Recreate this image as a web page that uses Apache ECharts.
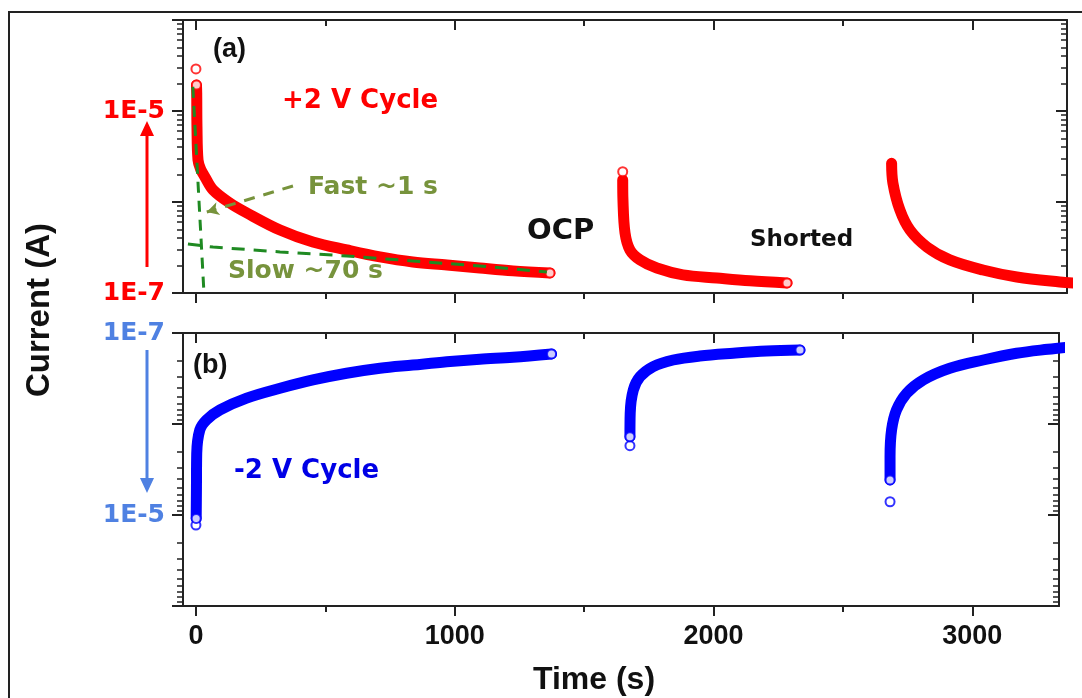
<!DOCTYPE html>
<html>
<head>
<meta charset="utf-8">
<title>Current transients, +2 V / -2 V cycles</title>
<script src="https://cdn.jsdelivr.net/npm/echarts@6/dist/echarts.min.js"></script>
<style>
  html, body { margin: 0; padding: 0; background: #fff; }
  #chart { width: 1082px; height: 698px; }
</style>
</head>
<body>
<div id="chart"></div>
<script>
// ---- axis ticks ----
const timeMajorTicks = [0, 1000, 2000, 3000];
const timeMinorTicks = [500, 1500, 2500];
const currentDecades = [1e-7, 1e-6, 1e-5, 1e-4];
const posCurrentLabels = [1e-7, 1e-5];
const negCurrentLabels = [1e-7, 1e-5];

// ---- (a) +2 V cycle: time (s), current (A) ----
const posCycle1 = [
  [2, 1.93e-5], [3, 1.58e-5], [4, 6.7e-6], [8, 2.9e-6], [18, 2.3e-6], [35, 1.88e-6],
  [66, 1.36e-6], [131, 9.75e-7], [197, 7.57e-7], [325, 4.92e-7], [452, 3.63e-7],
  [583, 2.97e-7], [711, 2.49e-7], [838, 2.19e-7], [970, 2.03e-7], [1097, 1.88e-7],
  [1225, 1.75e-7], [1368, 1.66e-7]
];
const posCycle2 = [
  [1649, 1.75e-6], [1650, 1.05e-6], [1658, 4.56e-7], [1677, 2.97e-7], [1716, 2.31e-7],
  [1781, 1.88e-7], [1882, 1.58e-7], [2013, 1.46e-7], [2141, 1.36e-7], [2284, 1.29e-7]
];
const posCycle3 = [
  [2688, 2.66e-6], [2693, 1.62e-6], [2720, 8.17e-7], [2759, 4.92e-7], [2825, 3.2e-7],
  [2913, 2.31e-7], [3041, 1.79e-7], [3172, 1.5e-7], [3338, 1.32e-7], [3400, 1.28e-7]
];
const posEndPoints = [
  [0, 2.9e-5], [2, 1.93e-5], [1368, 1.66e-7], [1649, 2.15e-6], [2284, 1.29e-7]
];
// two-exponential fit components of the first +2 V decay
const fastFit = [[-12, 1.84e-5], [31, 1.0e-7]];
const slowFit = [
  [-31, 3.45e-7], [66, 3.2e-7], [325, 2.83e-7], [583, 2.55e-7],
  [838, 2.25e-7], [1097, 1.98e-7], [1356, 1.70e-7]
];
const fastPointer = [[375, 1.5e-6], [42, 7.76e-7]];

// ---- (b) -2 V cycle: time (s), |current| (A) ----
const negCycle1 = [
  [1, 1.09e-5], [2, 4.92e-6], [3, 2.12e-6], [15, 1.16e-6], [41, 9.0e-7], [93, 7.0e-7],
  [196, 5.2e-7], [325, 4.05e-7], [452, 3.28e-7], [582, 2.77e-7], [711, 2.44e-7],
  [838, 2.25e-7], [969, 2.07e-7], [1097, 1.94e-7], [1225, 1.85e-7], [1374, 1.70e-7]
];
const negCycle2 = [
  [1677, 1.38e-6], [1678, 7.6e-7], [1690, 4.23e-7], [1716, 3.02e-7], [1767, 2.34e-7],
  [1844, 1.98e-7], [1947, 1.79e-7], [2076, 1.67e-7], [2205, 1.58e-7], [2334, 1.54e-7]
];
const negCycle3 = [
  [2682, 4.12e-6], [2682, 2.29e-6], [2688, 1.16e-6], [2707, 7.0e-7], [2746, 4.6e-7],
  [2810, 3.28e-7], [2913, 2.44e-7], [3042, 1.98e-7], [3171, 1.67e-7], [3292, 1.51e-7],
  [3400, 1.40e-7]
];
const negEndPoints = [
  [0, 1.29e-5], [1, 1.09e-5], [1374, 1.70e-7], [1677, 1.73e-6], [1677, 1.38e-6],
  [2334, 1.54e-7], [2682, 7.15e-6], [2682, 4.12e-6]
];

// ---- styling ----
const RED = '#ff0000';
const BLUE = '#0000ff';
const LIGHT_BLUE = '#4f81e2';
const OLIVE = '#77933c';
const FIT_GREEN = '#1f8a22';
const AXIS = '#222';
const SANS = '"Liberation Sans", Arial, sans-serif';
const ROUND = '"DejaVu Sans", Verdana, sans-serif';

// minor ticks of a log10 axis: 2..9 within each decade
const currentMinor = [];
for (let d = 0; d < currentDecades.length - 1; d++) {
  for (let m = 2; m <= 9; m++) currentMinor.push(m * currentDecades[d]);
}

const X_MIN = -50;
const gridTop = { left: 183, top: 20, width: 884, height: 273 };
const gridBottom = { left: 183, top: 333, width: 876, height: 273 };
const X_MAX_TOP = X_MIN + (gridTop.width / 258.8) * 1000;
const X_MAX_BOTTOM = X_MIN + (gridBottom.width / 258.8) * 1000;

function xAxes(gridIndex, max, showLabels) {
  const base = {
    type: 'value', gridIndex, min: X_MIN, max,
    splitLine: { show: false },
    axisLabel: { show: false }
  };
  const line = { show: true, onZero: false, lineStyle: { color: AXIS, width: 2 } };
  const noLine = { show: false, onZero: false };
  return [
    Object.assign({}, base, {
      position: 'bottom', axisLine: line,
      axisTick: { show: true, inside: false, length: 10, customValues: timeMajorTicks,
        lineStyle: { color: AXIS, width: 2 } },
      axisLabel: showLabels ? {
        show: true, customValues: timeMajorTicks, margin: 17,
        color: '#111', fontSize: 27, fontWeight: 'bold', fontFamily: SANS,
        formatter: v => String(v)
      } : { show: false }
    }),
    Object.assign({}, base, {
      position: 'bottom', axisLine: noLine,
      axisTick: { show: true, inside: false, length: 6, customValues: timeMinorTicks,
        lineStyle: { color: AXIS, width: 2 } }
    }),
    Object.assign({}, base, {
      position: 'top', axisLine: line,
      axisTick: { show: true, inside: true, length: 10, customValues: timeMajorTicks,
        lineStyle: { color: AXIS, width: 2 } }
    }),
    Object.assign({}, base, {
      position: 'top', axisLine: noLine,
      axisTick: { show: true, inside: true, length: 6, customValues: timeMinorTicks,
        lineStyle: { color: AXIS, width: 2 } }
    })
  ];
}

function yAxes(gridIndex, inverse, labelValues, labelColor) {
  const base = {
    type: 'log', logBase: 10, gridIndex, min: 1e-7, max: 1e-4, inverse,
    splitLine: { show: false },
    axisLabel: { show: false }
  };
  const line = { show: true, onZero: false, lineStyle: { color: AXIS, width: 2 } };
  const noLine = { show: false, onZero: false };
  const tick = (len, inside, values, w) => ({
    show: true, inside, length: len, customValues: values,
    lineStyle: { color: AXIS, width: w }
  });
  return [
    Object.assign({}, base, {
      position: 'left', axisLine: line, axisTick: tick(11, false, currentDecades, 2),
      axisLabel: {
        show: true, customValues: labelValues, margin: 18,
        color: labelColor, fontSize: 25, fontWeight: 'bold', fontFamily: ROUND,
        formatter: v => '1E' + Math.round(Math.log10(v))
      }
    }),
    Object.assign({}, base, {
      position: 'left', axisLine: noLine, axisTick: tick(6, false, currentMinor, 1.5)
    }),
    Object.assign({}, base, {
      position: 'right', axisLine: line, axisTick: tick(11, true, currentDecades, 2)
    }),
    Object.assign({}, base, {
      position: 'right', axisLine: noLine, axisTick: tick(6, true, currentMinor, 1.5)
    })
  ];
}

function traceSeries(data, color, axisIndex) {
  return {
    type: 'line', data, xAxisIndex: axisIndex, yAxisIndex: axisIndex,
    symbol: 'none', clip: true, silent: true, smooth: 0.35, z: 2,
    lineStyle: { color, width: 11, cap: 'round', join: 'round' }
  };
}

function endSeries(data, color, axisIndex) {
  return {
    type: 'scatter', data, xAxisIndex: axisIndex, yAxisIndex: axisIndex,
    symbol: 'circle', symbolSize: 9, silent: true, z: 4,
    itemStyle: { color: '#fff', borderColor: color, borderWidth: 2 }
  };
}

function label(text, x, y, size, color, family) {
  return {
    type: 'text', z: 100,
    style: {
      text, x, y, fill: color, align: 'left', verticalAlign: 'middle',
      font: 'bold ' + size + 'px ' + (family || ROUND)
    }
  };
}

const chart = echarts.init(document.getElementById('chart'), null, { renderer: 'canvas' });

chart.setOption({
  backgroundColor: '#fff',
  animation: false,
  grid: [
    Object.assign({ outerBoundsMode: 'none', containLabel: false }, gridTop),
    Object.assign({ outerBoundsMode: 'none', containLabel: false }, gridBottom)
  ],
  xAxis: [].concat(xAxes(0, X_MAX_TOP, false), xAxes(1, X_MAX_BOTTOM, true)),
  yAxis: [].concat(
    yAxes(0, false, posCurrentLabels, RED),
    yAxes(1, true, negCurrentLabels, LIGHT_BLUE)
  ),
  series: [
    traceSeries(posCycle1, RED, 0),
    traceSeries(posCycle2, RED, 0),
    traceSeries(posCycle3, RED, 0),
    endSeries(posEndPoints, RED, 0),
    {
      type: 'line', data: fastFit, xAxisIndex: 0, yAxisIndex: 0, symbol: 'none', silent: true,
      z: 5, lineStyle: { color: FIT_GREEN, width: 3, type: [11, 8] }
    },
    {
      type: 'line', data: slowFit, xAxisIndex: 0, yAxisIndex: 0, symbol: 'none', silent: true,
      z: 5, lineStyle: { color: FIT_GREEN, width: 3, type: [13, 9] },
      markLine: {
        silent: true, symbol: ['none', 'arrow'], symbolSize: [10, 12],
        label: { show: false },
        lineStyle: { color: OLIVE, width: 3, type: [11, 9] },
        data: [[{ coord: fastPointer[0] }, { coord: fastPointer[1] }]]
      }
    },
    traceSeries(negCycle1, BLUE, 4),
    traceSeries(negCycle2, BLUE, 4),
    traceSeries(negCycle3, BLUE, 4),
    endSeries(negEndPoints, BLUE, 4)
  ],
  graphic: [
    // outer frame
    { type: 'polyline', z: 50, shape: { points: [[1082, 12], [9, 12], [9, 698]] },
      style: { stroke: AXIS, lineWidth: 2, fill: null } },
    // direction arrows beside the current axis
    { type: 'line', z: 50, shape: { x1: 147, y1: 267, x2: 147, y2: 133 },
      style: { stroke: RED, lineWidth: 3 } },
    { type: 'polygon', z: 50, shape: { points: [[147, 121], [140, 136], [154, 136]] },
      style: { fill: RED } },
    { type: 'line', z: 50, shape: { x1: 147, y1: 350, x2: 147, y2: 480 },
      style: { stroke: LIGHT_BLUE, lineWidth: 3 } },
    { type: 'polygon', z: 50, shape: { points: [[147, 493], [140, 478], [154, 478]] },
      style: { fill: LIGHT_BLUE } },
    // annotations
    label('(a)', 213, 50, 27, '#111', SANS),
    label('(b)', 193, 366, 27, '#111', SANS),
    label('+2 V Cycle', 282, 101, 26, RED),
    label('Fast ~1 s', 308, 187, 25, OLIVE),
    label('Slow ~70 s', 228, 271, 25, OLIVE),
    label('OCP', 527, 231, 29, '#111'),
    label('Shorted', 750, 240, 23, '#111'),
    label('-2 V Cycle', 234, 471, 26, '#0000e6'),
    // axis titles
    {
      type: 'text', z: 100,
      style: { text: 'Time (s)', x: 594, y: 680, align: 'center', verticalAlign: 'middle',
        fill: '#111', font: 'bold 32px ' + SANS }
    },
    {
      type: 'text', z: 100, x: 40, y: 310, rotation: Math.PI / 2,
      style: { text: 'Current (A)', x: 0, y: 0, align: 'center', verticalAlign: 'middle',
        fill: '#111', font: 'bold 33px ' + SANS }
    }
  ]
});
</script>
</body>
</html>
